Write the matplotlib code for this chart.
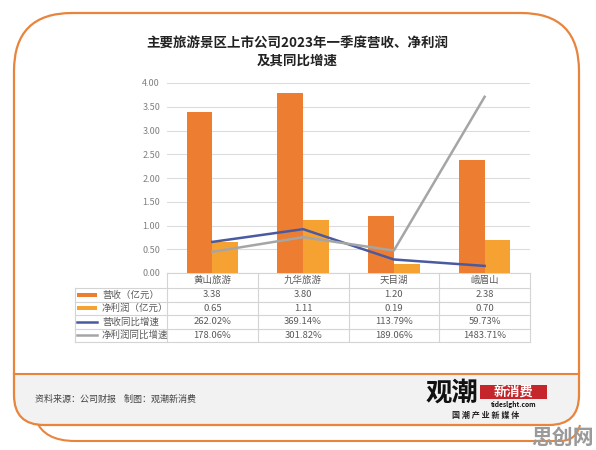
import matplotlib
matplotlib.use("Agg")
import matplotlib.pyplot as plt
from matplotlib.path import Path
from matplotlib.patches import PathPatch, Rectangle
import numpy as np

plt.rcParams['font.family'] = ['Noto Sans CJK SC', 'DejaVu Sans']

# ---------------- data ----------------
categories = ["黄山旅游", "九华旅游", "天目湖", "峨眉山"]
revenue = [3.38, 3.80, 1.20, 2.38]            # 营收（亿元）
net_profit = [0.65, 1.11, 0.19, 0.70]         # 净利润（亿元）
revenue_growth = [262.02, 369.14, 113.79, 59.73]      # 营收同比增速 %
profit_growth = [178.06, 301.82, 189.06, 1483.71]     # 净利润同比增速 %
y_ticks = [0.0, 0.5, 1.0, 1.5, 2.0, 2.5, 3.0, 3.5, 4.0]
series_names = ["营收（亿元）", "净利润（亿元）", "营收同比增速", "净利润同比增速"]
title = "主要旅游景区上市公司2023年一季度营收、净利润\n及其同比增速"
source_text = "资料来源：公司财报    制图：观潮新消费"

W, H = 596, 450
fig = plt.figure(figsize=(W / 100, H / 100), dpi=100)
fig.patch.set_facecolor("white")

ORANGE = "#E8843C"
C_REV = "#ED7D31"
C_PRO = "#F5A233"
C_RG = "#4A5AA0"
C_PG = "#A5A5A5"

# background axes in pixel coordinates
bg = fig.add_axes([0, 0, 1, 1], zorder=0)
bg.set_xlim(0, W)
bg.set_ylim(H, 0)
bg.axis("off")


def rounded_path(x0, y0, x1, y1, rt, rb):
    verts = [
        (x0 + rt, y0), (x1 - rt, y0), (x1, y0), (x1, y0 + rt),
        (x1, y1 - rb), (x1, y1), (x1 - rb, y1),
        (x0 + rb, y1), (x0, y1), (x0, y1 - rb),
        (x0, y0 + rt), (x0, y0), (x0 + rt, y0), (x0 + rt, y0),
    ]
    codes = [Path.MOVETO, Path.LINETO, Path.CURVE3, Path.CURVE3,
             Path.LINETO, Path.CURVE3, Path.CURVE3,
             Path.LINETO, Path.CURVE3, Path.CURVE3,
             Path.LINETO, Path.CURVE3, Path.CURVE3, Path.CLOSEPOLY]
    return Path(verts, codes)


# shadow frame
shadow = Path([(36, 420), (44, 441), (75, 441), (560, 441), (576, 441), (580, 425)],
              [Path.MOVETO, Path.CURVE3, Path.CURVE3, Path.LINETO, Path.CURVE3, Path.CURVE3])
bg.add_patch(PathPatch(shadow, fill=False, edgecolor=ORANGE, lw=1.5, zorder=1))

frame = rounded_path(14, 13, 579, 425, 58, 30)
bg.add_patch(PathPatch(frame, facecolor="white", edgecolor="none", zorder=2))
# footer gray area clipped to frame
foot = Rectangle((14, 374), 565, 60, facecolor="#F2F2F2", edgecolor="none", zorder=3)
bg.add_patch(foot)
foot.set_clip_path(PathPatch(frame, transform=bg.transData))
bg.plot([14, 579], [374, 374], color=ORANGE, lw=1.5, zorder=4)
bg.add_patch(PathPatch(frame, fill=False, edgecolor=ORANGE, lw=1.6, zorder=5))

# title
bg.text(297, 52, title, ha="center", va="center", fontsize=9.7, fontweight="bold",
        color="#222222", linespacing=1.35, zorder=6)

# footer text
bg.text(35, 399, source_text, ha="left", va="center", fontsize=6.5, color="#444444", zorder=6)

# logo
bg.text(452, 393, "观潮", ha="center", va="center", fontsize=19, fontweight="heavy",
        color="#111111", zorder=6)
bg.add_patch(Rectangle((480, 385), 67, 14, facecolor="#C4262B", edgecolor="none", zorder=6))
bg.text(513.5, 392, "新消费", ha="center", va="center", fontsize=9.5, fontweight="bold",
        color="white", zorder=7)
bg.text(513.5, 405, "tideslght.com", ha="center", va="center", fontsize=4.8, fontweight="bold",
        color="#111111", zorder=7)
bg.text(486, 415, "国 潮 产 业 新 媒 体", ha="center", va="center", fontsize=5.8, fontweight="bold",
        color="#222222", zorder=7)
bg.text(594, 437, "思创网", ha="right", va="center", fontsize=15, fontweight="bold",
        color="#9A9A9A", zorder=8)

# ---------------- chart ----------------
L, R, T, B = 167, 530, 83, 273
ax = fig.add_axes([L / W, 1 - B / H, (R - L) / W, (B - T) / H], zorder=5)
ax.set_facecolor("none")
x = np.arange(len(categories))
bw = 0.285
ax.bar(x - bw / 2, revenue, width=bw, color=C_REV, zorder=3)
ax.bar(x + bw / 2, net_profit, width=bw, color=C_PRO, zorder=3)
ax.set_xlim(-0.5, len(categories) - 0.5)
ax.set_ylim(0, 4.0)
ax.set_yticks(y_ticks)
ax.set_yticklabels([f"{v:.2f}" for v in y_ticks], fontsize=6.5, color="#808080")
ax.tick_params(axis="y", length=0, pad=5)
ax.set_xticks([])
ax.grid(axis="y", color="#DCDCDC", lw=0.8, zorder=0)
for s in ax.spines.values():
    s.set_visible(False)

ax2 = ax.twinx()
ax2.set_ylim(0, 16)
ax2.plot(x, np.array(revenue_growth) / 100, color=C_RG, lw=1.8, zorder=4)
ax2.plot(x, np.array(profit_growth) / 100, color=C_PG, lw=1.8, zorder=4)
ax2.axis("off")

# ---------------- data table ----------------
col_edges = [L + (R - L) * i / len(categories) for i in range(len(categories) + 1)]
row_edges = [273, 288, 301.5, 315, 328.5, 342]
TL = 75
gc = "#D4D4D4"
lw = 0.8
for ye in row_edges:
    x0 = L if ye == row_edges[0] else TL
    bg.plot([x0, R], [ye, ye], color=gc, lw=lw, zorder=6)
for xe in col_edges:
    bg.plot([xe, xe], [row_edges[0], row_edges[-1]], color=gc, lw=lw, zorder=6)
bg.plot([TL, TL], [row_edges[1], row_edges[-1]], color=gc, lw=lw, zorder=6)

centers = [(col_edges[i] + col_edges[i + 1]) / 2 for i in range(len(categories))]
rcen = [(row_edges[i] + row_edges[i + 1]) / 2 for i in range(len(row_edges) - 1)]
tc = "#5A5A5A"
fs = 6.8
for c, name in zip(centers, categories):
    bg.text(c, rcen[0], name, ha="center", va="center", fontsize=fs, color=tc, zorder=7)
rows = [
    [f"{v:.2f}" for v in revenue],
    [f"{v:.2f}" for v in net_profit],
    [f"{v:.2f}%" for v in revenue_growth],
    [f"{v:.2f}%" for v in profit_growth],
]
swatch = [("bar", C_REV), ("bar", C_PRO), ("line", C_RG), ("line", C_PG)]
for r, (vals, name, (kind, col)) in enumerate(zip(rows, series_names, swatch)):
    yc = rcen[r + 1]
    if kind == "bar":
        bg.add_patch(Rectangle((77, yc - 2.2), 20, 4.4, facecolor=col, edgecolor="none", zorder=7))
    else:
        bg.plot([77, 97], [yc, yc], color=col, lw=1.8, zorder=7)
    bg.text(102, yc, name, ha="left", va="center", fontsize=fs, color=tc, zorder=7)
    for c, v in zip(centers, vals):
        bg.text(c, yc, v, ha="center", va="center", fontsize=fs, color=tc, zorder=7)

fig.savefig("out.png", dpi=100, facecolor="white")
